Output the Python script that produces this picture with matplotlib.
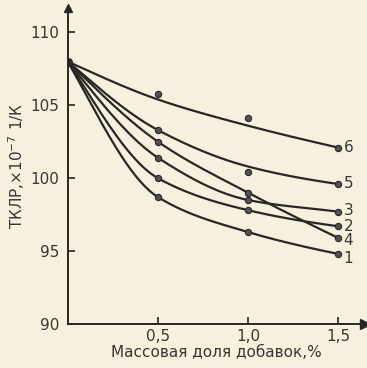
import matplotlib.pyplot as plt
import numpy as np

# mass fraction of additive, %
x = [0.0, 0.5, 1.0, 1.5]

pts = {
    "1": [108.0, 98.7, 96.3, 94.8],
    "2": [108.0, 100.0, 97.8, 96.7],
    "3": [108.0, 101.4, 98.5, 97.7],
    "4": [108.0, 102.5, 99.0, 95.9],
    "5": [108.0, 103.3, 100.4, 99.6],
    "6": [108.0, 105.8, 104.1, 102.1],
}
# where the drawn curves actually run (some points sit off the curve)
curves = {
    "1": [108.0, 98.7, 96.3, 94.8],
    "2": [108.0, 100.0, 97.8, 96.7],
    "3": [108.0, 101.4, 98.5, 97.7],
    "4": [108.0, 102.5, 99.0, 95.9],
    "5": [108.0, 103.3, 100.8, 99.6],
    "6": [108.0, 105.4, 103.6, 102.1],
}
# vertical nudge for the curve numbers at the right end
label_dy = {"1": -0.3, "2": 0.0, "3": 0.1, "4": -0.2, "5": 0.0, "6": 0.0}

ink = "#2a2626"
paper = "#f6f1de"


def pchip(xk, yk, xs):
    # monotone cubic (Fritsch-Carlson) so the hand-drawn curves don't wiggle
    xk = np.asarray(xk, float)
    yk = np.asarray(yk, float)
    h = np.diff(xk)
    d = np.diff(yk) / h
    m = np.zeros_like(yk)
    for i in range(1, len(xk) - 1):
        if d[i - 1] * d[i] > 0:
            w1 = 2 * h[i] + h[i - 1]
            w2 = h[i] + 2 * h[i - 1]
            m[i] = (w1 + w2) / (w1 / d[i - 1] + w2 / d[i])
    # end slopes halfway between the chord and the three-point estimate
    m0 = ((2 * h[0] + h[1]) * d[0] - h[0] * d[1]) / (h[0] + h[1])
    mn = ((2 * h[-1] + h[-2]) * d[-1] - h[-1] * d[-2]) / (h[-1] + h[-2])
    m[0] = 0.5 * (m0 + d[0]) if m0 * d[0] > 0 else d[0]
    m[-1] = 0.5 * (mn + d[-1]) if mn * d[-1] > 0 else d[-1]
    idx = np.clip(np.searchsorted(xk, xs) - 1, 0, len(xk) - 2)
    t = (xs - xk[idx]) / h[idx]
    h00 = 2 * t**3 - 3 * t**2 + 1
    h10 = t**3 - 2 * t**2 + t
    h01 = -2 * t**3 + 3 * t**2
    h11 = t**3 - t**2
    return (h00 * yk[idx] + h10 * h[idx] * m[idx]
            + h01 * yk[idx + 1] + h11 * h[idx] * m[idx + 1])


fig = plt.figure(figsize=(3.67, 3.68), dpi=100, facecolor=paper)
ax = fig.add_axes([0.185, 0.12, 0.81, 0.859], facecolor=paper)

xs = np.linspace(0, 1.5, 300)
for k in curves:
    ax.plot(xs, pchip(x, curves[k], xs), color=ink, lw=1.6)
    ax.plot(x[1:], pts[k][1:], "o", ms=4.5, mfc="#555050", mec=ink, mew=0.8)
    ax.text(1.53, curves[k][-1] + label_dy[k], k, fontsize=11, color="#3a3535",
            va="center", ha="left")
ax.plot([0], [108], "o", ms=5.5, color=ink)

ax.set_xlim(0, 1.65)
ax.set_ylim(90, 111.7)
for s in ["top", "right"]:
    ax.spines[s].set_visible(False)
for s in ["left", "bottom"]:
    ax.spines[s].set_color(ink)
    ax.spines[s].set_linewidth(1.4)

# arrowheads on the axes
ax.plot(1, 0, ">", ms=7, color=ink, transform=ax.transAxes, clip_on=False)
ax.plot(0, 1, "^", ms=6, color=ink, transform=ax.transAxes, clip_on=False)

ax.set_xticks([0.5, 1.0, 1.5])
ax.set_xticklabels(["0,5", "1,0", "1,5"])
ax.set_yticks([90, 95, 100, 105, 110])
ax.tick_params(direction="in", length=5, width=1.2, colors=ink, labelsize=11,
               labelcolor="#3a3535")
ax.tick_params(axis="y", pad=6)

ax.set_xlabel("Массовая доля добавок,%", fontsize=11, color="#3a3535", labelpad=1)
ax.set_ylabel("ТКЛР,$\\times$10$^{-7}$ 1/К", fontsize=11, color="#3a3535", labelpad=3)

fig.savefig("out.png", dpi=100, facecolor=paper)
